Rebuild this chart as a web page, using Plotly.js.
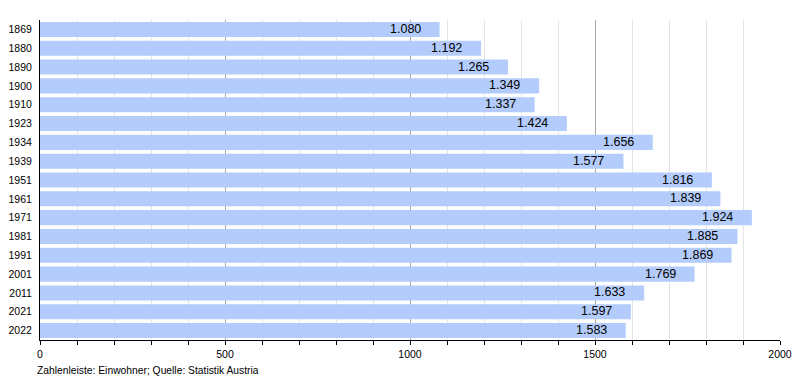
<!DOCTYPE html>
<html>
<head>
<meta charset="utf-8">
<script src="https://cdn.plot.ly/plotly-3.0.1.min.js"></script>
<style>body{margin:0;padding:0;background:#fff}#chart{width:800px;height:380px}</style>
</head>
<body>
<div id="chart"></div>
<script>
const years = ["1869","1880","1890","1900","1910","1923","1934","1939","1951","1961","1971","1981","1991","2001","2011","2021","2022"];
const population = [1080,1192,1265,1349,1337,1424,1656,1577,1816,1839,1924,1885,1869,1769,1633,1597,1583];
const footerText = "Zahlenleiste: Einwohner; Quelle: Statistik Austria";

function fmtDE(v){
  const s = String(Math.round(v));
  return s.replace(/\B(?=(\d{3})+(?!\d))/g, ".");
}

const font = "Liberation Sans, Arial, sans-serif";

const trace = {
  type: "bar",
  orientation: "h",
  y: years,
  x: population,
  marker: {color: "#b3ccfb", line: {width: 0}},
  width: 0.8,
  hoverinfo: "none"
};

const labels = years.map((y, i) => ({
  x: population[i], y: i, xref: "x", yref: "y",
  text: fmtDE(population[i]),
  showarrow: false, xanchor: "right", yanchor: "middle",
  xshift: -17, yshift: 0.5,
  font: {family: font, size: 12.5, color: "#000"}
}));

labels.push({
  xref: "paper", yref: "paper", x: -0.007, y: -0.094,
  xanchor: "left", yanchor: "middle", showarrow: false,
  text: footerText,
  font: {family: font, size: 10.3, color: "#000"}
});

const layout = {
  width: 800, height: 380,
  margin: {l: 40, r: 20, t: 20, b: 40},
  paper_bgcolor: "#fff", plot_bgcolor: "#fff",
  showlegend: false,
  bargap: 0.2,
  font: {family: font, size: 10, color: "#000"},
  xaxis: {
    range: [0, 2000],
    tickmode: "linear", tick0: 0, dtick: 500,
    ticks: "outside", ticklen: 4, tickcolor: "#000", tickwidth: 1,
    showgrid: true, gridcolor: "#a8a8a8", gridwidth: 1,
    minor: {dtick: 100, tick0: 0, ticks: "outside", ticklen: 4, tickcolor: "#000", showgrid: true, gridcolor: "#e4e4e4", gridwidth: 1},
    showline: true, linecolor: "#000", linewidth: 1,
    zeroline: false,
    tickfont: {family: font, size: 10.5, color: "#000"},
    fixedrange: true
  },
  yaxis: {
    type: "category",
    categoryorder: "array", categoryarray: years,
    range: [years.length - 0.5, -0.5],
    autorange: false,
    showgrid: false, zeroline: false,
    showline: true, linecolor: "#000", linewidth: 1,
    ticks: "", ticklabelstandoff: 5,
    tickfont: {family: font, size: 10.5, color: "#000"},
    fixedrange: true
  },
  annotations: labels
};

Plotly.newPlot("chart", [trace], layout, {displayModeBar: false, staticPlot: true});
</script>
</body>
</html>
